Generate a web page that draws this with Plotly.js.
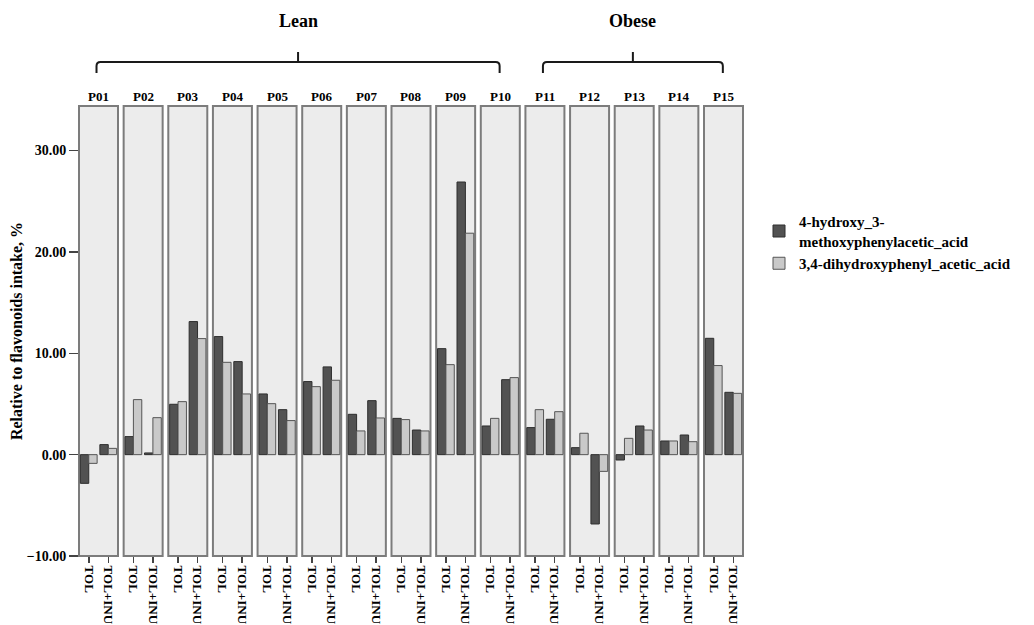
<!DOCTYPE html>
<html>
<head>
<meta charset="utf-8">
<script src="https://cdn.plot.ly/plotly-3.0.1.min.js"></script>
<style>html,body{margin:0;padding:0;background:#fff;}#chart{width:1034px;height:625px;}</style>
</head>
<body>
<div id="chart"></div>
<script>
// ---- data ----
const participants = ["P01","P02","P03","P04","P05","P06","P07","P08","P09","P10","P11","P12","P13","P14","P15"];
const groupNames = ["Lean","Obese"];
const groupOf = ["Lean","Lean","Lean","Lean","Lean","Lean","Lean","Lean","Lean","Lean","Obese","Obese","Obese","Obese","Obese"];
const conditions = ["TOL","TOL+INU"];
const seriesNames = ["4-hydroxy_3-<br>methoxyphenylacetic_acid","3,4-dihydroxyphenyl_acetic_acid"];
// values per participant: [TOL, TOL+INU]
const hmpaTOL    = [-2.83, 1.78, 4.97, 11.65, 5.99, 7.21, 3.98, 3.58, 10.46, 2.83, 2.67, 0.69, -0.53, 1.35, 11.48];
const hmpaTOLINU = [ 0.99, 0.17, 13.13, 9.18, 4.44, 8.66, 5.33, 2.43, 26.90, 7.40, 3.49, -6.84, 2.83, 1.94, 6.15];
const dhpaTOL    = [-0.86, 5.43, 5.23, 9.11, 5.03, 6.71, 2.34, 3.46, 8.88, 3.58, 4.44, 2.11, 1.61, 1.35, 8.79];
const dhpaTOLINU = [ 0.62, 3.65, 11.45, 5.99, 3.36, 7.34, 3.62, 2.34, 21.85, 7.60, 4.24, -1.65, 2.43, 1.28, 6.05];
const yTickVals = [-10, 0, 10, 20, 30];
const yRange = [-10, 34.4];

// ---- styling ----
const serif = "Liberation Serif, Times New Roman, serif";
const darkFill = "#525252", darkLine = "#2e2e2e";
const lightFill = "#c9c9c9", lightLine = "#555555";
const panelFill = "#ececec", panelLine = "#7c7c7c";

const n = participants.length;
const plotL = 79, plotR = 743, plotT = 106, plotB = 556, W = 1034, H = 625;
const plotW = plotR - plotL, plotH = plotB - plotT;
const panelW = 39 / plotW;
const step = (1 - panelW) / (n - 1);
const pxY = py => (plotB - py) / plotH;  // pixel row -> paper y

const traces = [];
const layout = {
  width: W, height: H,
  margin: {l: plotL, r: W - plotR, t: plotT, b: H - plotB, pad: 0},
  paper_bgcolor: "#ffffff", plot_bgcolor: "rgba(0,0,0,0)",
  barmode: "group", bargap: 0.14, bargroupgap: 0,
  showlegend: true,
  legend: {x: (759 - plotL) / plotW, y: pxY(205), xanchor: "left", yanchor: "top",
           font: {family: serif, size: 15, color: "#000", weight: "bold"},
           tracegroupgap: 0, itemwidth: 30, bgcolor: "rgba(0,0,0,0)"},
  yaxis: {range: yRange, tickvals: yTickVals, tickformat: ".2f", ticks: "outside", ticklen: 9,
          tickcolor: "#444", tickwidth: 1.5, showgrid: false, zeroline: false, showline: false,
          anchor: "x", tickfont: {family: serif, size: 14, color: "#000", weight: "bold"},
          title: {text: "Relative to flavonoids intake, %", standoff: 0,
                  font: {family: serif, size: 16, color: "#000", weight: "bold"}}},
  shapes: [], annotations: []
};

for (let i = 0; i < n; i++) {
  const ax = i === 0 ? "x" : "x" + (i + 1);
  const axKey = i === 0 ? "xaxis" : "xaxis" + (i + 1);
  const d0 = i * step, d1 = Math.min(1, i * step + panelW);
  layout[axKey] = {
    domain: [d0, d1], anchor: "y", type: "category", categoryorder: "array", categoryarray: conditions,
    range: [-0.5, 1.5], tickangle: 90, ticks: "outside", ticklen: 6, tickcolor: "#444", tickwidth: 1.5,
    showgrid: false, zeroline: false, showline: false,
    tickfont: {family: serif, size: 13, color: "#000", weight: "bold"}
  };
  traces.push({type: "bar", x: conditions, y: [hmpaTOL[i], hmpaTOLINU[i]], xaxis: ax, yaxis: "y",
    name: seriesNames[0], legendgroup: "a", showlegend: i === 0,
    marker: {color: darkFill, line: {color: darkLine, width: 1}}, hoverinfo: "x+y"});
  traces.push({type: "bar", x: conditions, y: [dhpaTOL[i], dhpaTOLINU[i]], xaxis: ax, yaxis: "y",
    name: seriesNames[1], legendgroup: "b", showlegend: i === 0,
    marker: {color: lightFill, line: {color: lightLine, width: 1}}, hoverinfo: "x+y"});
  layout.shapes.push({type: "rect", xref: ax + " domain", yref: "y domain", x0: 0, x1: 1, y0: 0, y1: 1,
    fillcolor: panelFill, line: {color: panelLine, width: 2}, layer: "below"});
  layout.annotations.push({xref: "paper", yref: "paper", x: (d0 + d1) / 2, y: pxY(96), xanchor: "center", yanchor: "middle",
    text: participants[i], showarrow: false, font: {family: serif, size: 13, color: "#000", weight: "bold"}});
}

// group brackets
groupNames.forEach(g => {
  const idx = participants.map((p, k) => k).filter(k => groupOf[k] === g);
  const a = idx[0], b = idx[idx.length - 1];
  const x0 = a * step + panelW / 2 - 0.003, x1 = b * step + panelW / 2 - 0.001;
  const xc = (x0 + x1) / 2;
  const yH = pxY(62), yE = pxY(73), yT = pxY(52);
  const r = 4 / plotW, ry = 4 / plotH;
  const path = `M ${x0},${yE} L ${x0},${yH - ry} Q ${x0},${yH} ${x0 + r},${yH} L ${x1 - r},${yH} Q ${x1},${yH} ${x1},${yH - ry} L ${x1},${yE} M ${xc},${yH} L ${xc},${yT}`;
  layout.shapes.push({type: "path", xref: "paper", yref: "paper", path: path, line: {color: "#1a1a1a", width: 2}});
  layout.annotations.push({xref: "paper", yref: "paper", x: xc, y: pxY(21), xanchor: "center", yanchor: "middle",
    text: g, showarrow: false, font: {family: serif, size: 18, color: "#000", weight: "bold"}});
});

Plotly.newPlot("chart", traces, layout, {displayModeBar: false, staticPlot: true});
</script>
</body>
</html>
